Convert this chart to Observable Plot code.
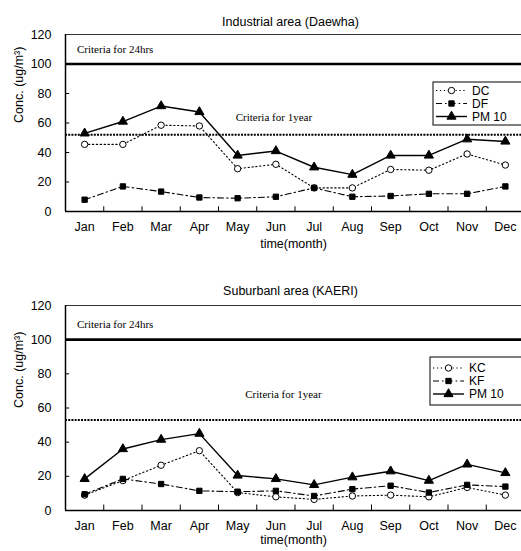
<!DOCTYPE html>
<html>
<head>
<meta charset="utf-8">
<script src="https://cdn.jsdelivr.net/npm/d3@7"></script>
<script src="https://cdn.jsdelivr.net/npm/@observablehq/plot@0.6"></script>
<style>
  body { margin: 0; background: #fff; }
  #root { width: 521px; }
  #root svg { display: block; overflow: visible; }
</style>
</head>
<body>
<div id="root"></div>
<script>
// Monthly mean concentrations (ug/m3) at the two sampling sites
const months = ["Jan", "Feb", "Mar", "Apr", "May", "Jun", "Jul", "Aug", "Sep", "Oct", "Nov", "Dec"];

const daewhaDC   = [45.5, 45.5, 58.5, 58, 29, 32, 16, 16, 28.5, 28, 39, 31.5];
const daewhaDF   = [8, 17, 13.5, 9.5, 9, 10, 16, 10, 10.5, 12, 12, 17];
const daewhaPM10 = [53, 61, 71.5, 67.5, 38, 41, 30, 25, 38, 38, 49, 47.5];

const kaeriKC   = [9, 17.5, 26.5, 35, 10.5, 8, 6.5, 8.5, 9, 8, 13.5, 9];
const kaeriKF   = [9.5, 18.5, 15.5, 11.5, 11, 11.5, 8.5, 12.5, 14.5, 10.5, 15, 14];
const kaeriPM10 = [18.5, 36, 41.5, 45, 20.5, 18.5, 15, 19.5, 23, 17.5, 27, 22];

const yTicks = [0, 20, 40, 60, 80, 100, 120];
const criteria24h = 100;
const criteria1yDaewha = 52;
const criteria1yKaeri = 53;

// Line / marker style for each kind of series
const styles = {
  coarse: { dash: "1.3,2.6", width: 1.1, symbol: "circle",   fill: "white", r: 3.2 },
  fine:   { dash: "6,3,1.6,3", width: 1.1, symbol: "square", fill: "black", r: 3.0 },
  pm10:   { dash: null,      width: 1.4, symbol: "triangle", fill: "black", r: 3.4 }
};

const sans = "'Liberation Sans', Arial, sans-serif";
const serif = "'Liberation Serif', 'Times New Roman', serif";

const symbolTypes = { circle: d3.symbolCircle, square: d3.symbolSquare, triangle: d3.symbolTriangle };

function panel(cfg) {
  const data = cfg.series.flatMap(s => s.values.map((v, i) => ({ name: s.name, i, v })));
  const marks = [
    // frame: top edge, bottom axis line, left edge
    Plot.ruleY([120], { stroke: "#333", strokeWidth: 1 }),
    Plot.ruleY([0], { stroke: "#000", strokeWidth: 1.5 }),
    Plot.ruleX([-0.5], { stroke: "#000", strokeWidth: 1.5 }),
    // inward tick marks
    Plot.ruleY(yTicks.filter(t => t > 0 && t < 120), { x1: -0.5, x2: -0.39, stroke: "#000" }),
    Plot.ruleX(d3.range(0.5, 11.5, 1), { y1: 0, y2: 3.2, stroke: "#000" }),
    // air quality criteria
    Plot.ruleY([criteria24h], { stroke: "#000", strokeWidth: 2.6 }),
    Plot.ruleY([cfg.criteria1y], { stroke: "#000", strokeWidth: 2, strokeDasharray: "2,1.2" }),
    Plot.text(["Criteria for 24hrs"], { x: -0.2, y: cfg.label24y, textAnchor: "start", fontFamily: serif, fontSize: 11 }),
    Plot.text(["Criteria for 1year"], { x: cfg.label1x, y: cfg.label1y, textAnchor: "start", fontFamily: serif, fontSize: 11 }),
    // titles
    Plot.text([cfg.title], { frameAnchor: "top", dy: cfg.titleDy, dx: -3, fontFamily: sans, fontSize: 12.5 }),
    Plot.text(["time(month)"], { frameAnchor: "bottom", dy: cfg.xLabelDy, fontFamily: sans, fontSize: 12.5 }),
    Plot.text(["Conc. (ug/m³)"], { frameAnchor: "left", dx: -47, rotate: -90, fontFamily: sans, fontSize: 12.5 })
  ];
  for (const s of cfg.series) {
    const st = styles[s.kind];
    const rows = data.filter(d => d.name === s.name);
    marks.push(Plot.line(rows, { x: "i", y: "v", stroke: "#000", strokeWidth: st.width, strokeDasharray: st.dash }));
  }
  for (const s of cfg.series) {
    const st = styles[s.kind];
    const rows = data.filter(d => d.name === s.name);
    marks.push(Plot.dot(rows, { x: "i", y: "v", symbol: st.symbol, r: st.r, fill: st.fill, stroke: "#000", strokeWidth: 1 }));
  }

  const svg = Plot.plot({
    width: 521,
    height: cfg.height,
    marginTop: cfg.marginTop,
    marginBottom: cfg.marginBottom,
    marginLeft: 65,
    marginRight: 0,
    style: { fontFamily: sans, fontSize: "12.5px", color: "#000", background: "transparent" },
    x: { domain: [-0.5, 11.5], range: [65, 524], ticks: d3.range(12), tickFormat: i => months[i], tickSize: 0, tickPadding: 11, label: null },
    y: { domain: [0, 120], ticks: yTicks, tickSize: 0, tickPadding: 14, label: null },
    marks
  });

  // legend box
  const lg = cfg.legend;
  const g = d3.select(svg).append("g")
    .attr("font-family", sans).attr("font-size", 12).attr("text-anchor", "start");
  g.append("rect").attr("x", lg.x).attr("y", lg.y).attr("width", 120).attr("height", lg.h)
    .attr("fill", "#fff").attr("stroke", "#000").attr("stroke-width", 1);
  cfg.series.forEach((s, k) => {
    const st = styles[s.kind];
    const ry = lg.y + lg.rows[k];
    g.append("line").attr("x1", lg.x + 3).attr("x2", lg.x + 34).attr("y1", ry).attr("y2", ry)
      .attr("stroke", "#000").attr("stroke-width", st.width).attr("stroke-dasharray", st.dash);
    g.append("path").attr("transform", `translate(${lg.x + 18.5},${ry})`)
      .attr("d", d3.symbol(symbolTypes[st.symbol], st.r * st.r * Math.PI)())
      .attr("fill", st.fill).attr("stroke", "#000");
    g.append("text").attr("x", lg.x + 39).attr("y", ry).attr("dy", "0.35em").text(s.name);
  });
  return svg;
}

const root = document.getElementById("root");
root.append(panel({
  title: "Industrial area (Daewha)",
  titleDy: -17,
  height: 276, marginTop: 34, marginBottom: 65, xLabelDy: 36,
  criteria1y: criteria1yDaewha,
  label24y: 110, label1x: 3.95, label1y: 63.5,
  legend: { x: 433, y: 82, h: 43, rows: [8.5, 21.5, 34.5] },
  series: [
    { name: "DC", kind: "coarse", values: daewhaDC },
    { name: "DF", kind: "fine", values: daewhaDF },
    { name: "PM 10", kind: "pm10", values: daewhaPM10 }
  ]
}));
root.append(panel({
  title: "Suburbanl area (KAERI)",
  titleDy: -19,
  height: 275, marginTop: 29, marginBottom: 41, xLabelDy: 33,
  criteria1y: criteria1yKaeri,
  label24y: 109, label1x: 4.2, label1y: 68,
  legend: { x: 430, y: 81, h: 48, rows: [11, 24, 37] },
  series: [
    { name: "KC", kind: "coarse", values: kaeriKC },
    { name: "KF", kind: "fine", values: kaeriKF },
    { name: "PM 10", kind: "pm10", values: kaeriPM10 }
  ]
}));
</script>
</body>
</html>
